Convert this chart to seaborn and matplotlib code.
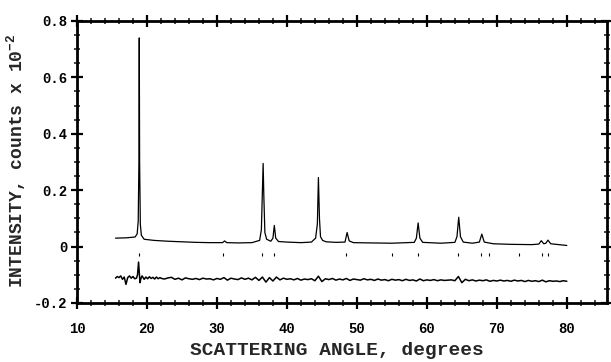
import numpy as np
import pandas as pd
import matplotlib
matplotlib.use("Agg")
import matplotlib.pyplot as plt
from matplotlib.ticker import MultipleLocator, FixedLocator, FixedFormatter
import seaborn as sns

# ---- data ----
obs_2theta = [15.5, 17.0, 18.3, 18.6, 18.75, 18.85, 18.9, 18.95, 19.05, 19.2, 19.6, 21.0, 23.0, 25.0,
              27.0, 29.0, 30.8, 31.1, 31.4, 33.0, 35.0, 36.1, 36.35, 36.5, 36.6, 36.7, 36.85, 37.1,
              37.7, 38.0, 38.2, 38.4, 38.8, 40.0, 42.0, 43.5, 44.1, 44.35, 44.5, 44.65, 44.8, 45.1,
              45.6, 47.0, 48.3, 48.6, 48.9, 49.5, 52.0, 55.0, 58.2, 58.5, 58.75, 59.0, 59.4, 62.0,
              64.0, 64.3, 64.55, 64.8, 65.2, 66.5, 67.5, 67.85, 68.2, 69.5, 72.0, 75.0, 76.0, 76.35,
              76.7, 77.0, 77.3, 77.7, 80.0]
obs_intensity = [0.030, 0.031, 0.034, 0.045, 0.09, 0.30, 0.74, 0.30, 0.08, 0.040, 0.026, 0.022, 0.019, 0.017,
                 0.015, 0.014, 0.014, 0.020, 0.014, 0.013, 0.014, 0.022, 0.06, 0.20, 0.295, 0.18, 0.05, 0.026,
                 0.019, 0.030, 0.075, 0.030, 0.018, 0.016, 0.014, 0.016, 0.030, 0.080, 0.245, 0.10, 0.035, 0.022,
                 0.017, 0.015, 0.016, 0.050, 0.020, 0.014, 0.013, 0.012, 0.015, 0.030, 0.084, 0.030, 0.015, 0.012,
                 0.015, 0.035, 0.104, 0.035, 0.016, 0.012, 0.016, 0.044, 0.016, 0.010, 0.008, 0.007, 0.009, 0.021,
                 0.010, 0.012, 0.023, 0.010, 0.004]

diff_2theta = [15.5, 15.75, 16.0, 16.25, 16.5, 16.75, 17.0, 17.25, 17.5, 17.75, 18.0, 18.25, 18.5, 18.65, 18.8,
               18.9, 19.0, 19.15, 19.3, 19.6, 19.85, 20.1, 20.35, 20.6, 20.85, 21.1, 21.35, 21.6, 21.85, 22.1,
               22.5, 23.0, 23.5, 24.0, 24.5, 25.0, 25.5, 26.0, 26.5, 27.0, 27.5, 28.0, 28.5, 29.0,
               29.5, 30.0, 30.5, 31.0, 31.5, 32.0, 32.5, 33.0, 33.5, 34.0, 34.5, 35.0, 35.5, 36.0, 36.5,
               37.0, 37.5, 38.0, 38.5, 39.0, 39.5, 40.0, 40.5, 41.0, 41.5, 42.0, 42.5, 43.0, 43.5, 44.0,
               44.5, 45.0, 45.5, 46.0, 46.5, 47.0, 47.5, 48.0, 48.5, 49.0, 49.5, 50.0, 50.5, 51.0, 51.5,
               52.0, 52.5, 53.0, 53.5, 54.0, 54.5, 55.0, 55.5, 56.0, 56.5, 57.0, 57.5, 58.0, 58.5, 59.0,
               59.5, 60.0, 60.5, 61.0, 61.5, 62.0, 62.5, 63.0, 63.5, 64.0, 64.5, 65.0, 65.5, 66.0, 66.5,
               67.0, 67.5, 68.0, 68.5, 69.0, 69.5, 70.0, 70.5, 71.0, 71.5, 72.0, 72.5, 73.0, 73.5, 74.0,
               74.5, 75.0, 75.5, 76.0, 76.5, 77.0, 77.5, 78.0, 78.5, 79.0, 79.5, 80.0]
diff_intensity = [-0.112, -0.106, -0.110, -0.104, -0.116, -0.108, -0.134, -0.110, -0.104, -0.112, -0.106, -0.114, -0.112, -0.100, -0.055,
                  -0.090, -0.128, -0.112, -0.104, -0.116, -0.108, -0.114, -0.107, -0.113, -0.109, -0.115, -0.108, -0.114, -0.110, -0.113,
                  -0.115, -0.111, -0.109, -0.116, -0.112, -0.118, -0.111, -0.114, -0.116, -0.113, -0.117, -0.112, -0.115, -0.114,
                  -0.118, -0.113, -0.116, -0.110, -0.119, -0.112, -0.115, -0.117, -0.111, -0.116, -0.112, -0.118, -0.109, -0.120, -0.108,
                  -0.126, -0.110, -0.122, -0.108, -0.118, -0.112, -0.116, -0.114, -0.118, -0.113, -0.119, -0.115, -0.117, -0.114, -0.121,
                  -0.105, -0.124, -0.114, -0.117, -0.113, -0.119, -0.115, -0.118, -0.113, -0.120, -0.115, -0.117, -0.119, -0.114, -0.118,
                  -0.116, -0.120, -0.115, -0.119, -0.117, -0.121, -0.116, -0.119, -0.117, -0.121, -0.116, -0.120, -0.118, -0.122, -0.115,
                  -0.121, -0.118, -0.120, -0.117, -0.121, -0.118, -0.120, -0.119, -0.118, -0.121, -0.106, -0.128, -0.116, -0.121, -0.118,
                  -0.122, -0.119, -0.121, -0.118, -0.123, -0.120, -0.122, -0.119, -0.122, -0.120, -0.123, -0.119, -0.122, -0.120, -0.124,
                  -0.120, -0.123, -0.121, -0.124, -0.119, -0.125, -0.121, -0.123, -0.122, -0.124, -0.121, -0.123]

reflections = [18.8, 30.9, 36.5, 38.1, 48.5, 55.0, 58.7, 64.5, 67.8, 68.9, 73.2, 76.4, 77.3]

x_ticks = [10, 20, 30, 40, 50, 60, 70, 80]
x_tick_labels = ["10", "20", "30", "40", "50", "60", "70", "80"]
y_ticks = [-0.2, 0.0, 0.2, 0.4, 0.6, 0.8]
y_tick_labels = ["-0.2", "0", "0.2", "0.4", "0.6", "0.8"]

# ---- figure ----
sns.set_theme(style="ticks")
plt.rcParams['font.family'] = ['Liberation Mono', 'DejaVu Sans Mono']
plt.rcParams['font.weight'] = 'bold'
plt.rcParams['mathtext.fontset'] = 'custom'
plt.rcParams['mathtext.rm'] = 'Liberation Mono:bold'
plt.rcParams['mathtext.default'] = 'rm'

fig = plt.figure(figsize=(6.11, 3.62), dpi=100)
ax = fig.add_axes([0.126, 0.163, 0.867, 0.779])

obs_df = pd.DataFrame({"angle": obs_2theta, "intensity": obs_intensity})
diff_df = pd.DataFrame({"angle": diff_2theta, "intensity": diff_intensity})

sns.lineplot(data=obs_df, x="angle", y="intensity", ax=ax, color="black", linewidth=0.9,
             sort=False, estimator=None)
sns.lineplot(data=diff_df, x="angle", y="intensity", ax=ax, color="black", linewidth=1.1,
             sort=False, estimator=None)
ax.vlines(reflections, -0.034, -0.022, color="black", linewidth=0.8)

ax.set_xlim(10, 85.7)
ax.set_ylim(-0.2, 0.8)

ax.xaxis.set_major_locator(FixedLocator(x_ticks))
ax.xaxis.set_major_formatter(FixedFormatter(x_tick_labels))
ax.xaxis.set_minor_locator(MultipleLocator(2))
ax.yaxis.set_major_locator(FixedLocator(y_ticks))
ax.yaxis.set_major_formatter(FixedFormatter(y_tick_labels))
ax.yaxis.set_minor_locator(MultipleLocator(0.05))

ax.tick_params(which="major", direction="inout", length=8, width=1.6, top=True, right=True,
               labelsize=10, pad=3, colors="black")
ax.tick_params(axis="x", which="major", pad=10)
ax.tick_params(which="minor", direction="inout", length=4, width=1.2, top=True, right=True)
for lab in ax.get_xticklabels() + ax.get_yticklabels():
    lab.set_fontweight("bold")

for sp in ax.spines.values():
    sp.set_linewidth(2.0)
    sp.set_color("black")

ax.set_xlabel("SCATTERING ANGLE, degrees", fontsize=14, fontweight="bold")
ax.set_ylabel(r"INTENSITY, counts x 10$^{-2}$", fontsize=13, fontweight="bold")
ax.xaxis.set_label_coords(0.49, -0.14)
ax.yaxis.set_label_coords(-0.092, 0.505)

fig.savefig("out.png", dpi=100, facecolor="white")
